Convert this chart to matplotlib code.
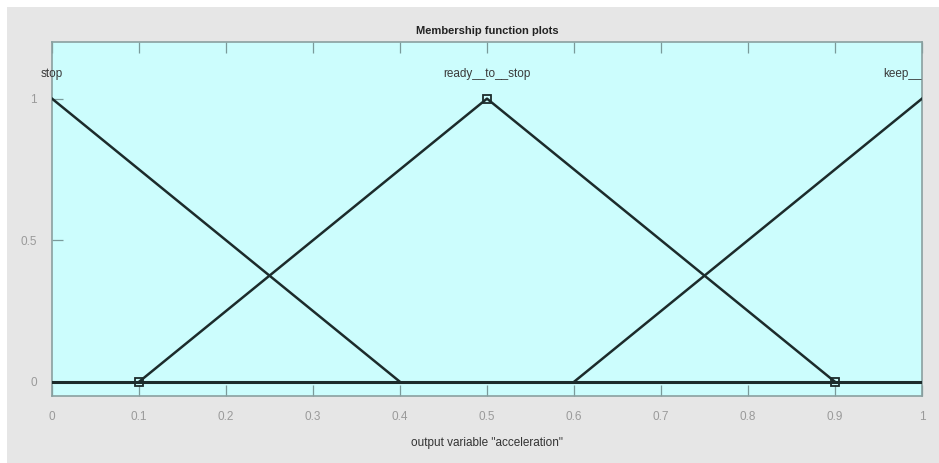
import matplotlib.pyplot as plt
from matplotlib.patches import Rectangle

# membership functions of output "acceleration"
mf_names = ["stop", "ready__to__stop", "keep__moving"]
mf_x = [[0.0, 0.4], [0.1, 0.5, 0.9], [0.6, 1.0]]
mf_y = [[1.0, 0.0], [0.0, 1.0, 0.0], [0.0, 1.0]]
mf_peak = [0.0, 0.5, 1.0]
# vertices of the selected function, shown as squares
sel_x = [0.1, 0.5, 0.9]
sel_y = [0.0, 1.0, 0.0]

xticks = [0, 0.1, 0.2, 0.3, 0.4, 0.5, 0.6, 0.7, 0.8, 0.9, 1]
xtick_labels = ["0", "0.1", "0.2", "0.3", "0.4", "0.5", "0.6", "0.7", "0.8", "0.9", "1"]
yticks = [0, 0.5, 1]
ytick_labels = ["0", "0.5", "1"]

plt.rcParams['font.family'] = ['Liberation Sans Narrow', 'Liberation Sans', 'DejaVu Sans']

W, H = 939, 463
fig = plt.figure(figsize=(W / 100, H / 100), dpi=100)
fig.patch.set_facecolor('white')

# gray panel behind the plot
bg = Rectangle((7 / W, 0), 1 - 7 / W, 1 - 7 / H, transform=fig.transFigure,
               facecolor='#e6e6e6', edgecolor='none', zorder=-10)
fig.add_artist(bg)

ax = fig.add_axes([52 / W, 1 - 396 / H, (922 - 52) / W, (396 - 42) / H])
ax.set_facecolor('#ccfdfd')
ax.set_xlim(0, 1)
ax.set_ylim(-0.05, 1.2)

line_col = '#1c2b2b'
ax.axhline(0, color=line_col, lw=2.2, zorder=3)
for xs, ys in zip(mf_x, mf_y):
    ax.plot(xs, ys, color=line_col, lw=1.8, zorder=3)
ax.plot(sel_x, sel_y, ls='none', marker='s', ms=6, mfc='none', mec=line_col, mew=1.3, zorder=4)

# function names above their peaks (the last one is cut at the axes edge, as in the reference)
for i, (name, px) in enumerate(zip(mf_names, mf_peak)):
    ax.text(px, 1.088, name, ha='center', va='center', fontsize=8.5, color='#3a3a3a',
            clip_on=(i == len(mf_names) - 1), zorder=5)

ax.set_xticks(xticks)
ax.set_xticklabels(xtick_labels)
ax.set_yticks(yticks)
ax.set_yticklabels(ytick_labels)
ax.tick_params(direction='in', length=8, width=0.9, color='#7a9a9a', labelcolor='#9a9a9a',
               labelsize=8.5, top=True, right=False, pad=11)
for s in ax.spines.values():
    s.set_color('#8aa0a0')
    s.set_linewidth(1.2)

ax.set_title("Membership function plots", fontsize=8, fontweight='bold', color='#222222', pad=6)
ax.set_xlabel('output variable "acceleration"', fontsize=8.5, color='#333333', labelpad=10)

fig.savefig("out.png", dpi=100, facecolor=fig.get_facecolor())
